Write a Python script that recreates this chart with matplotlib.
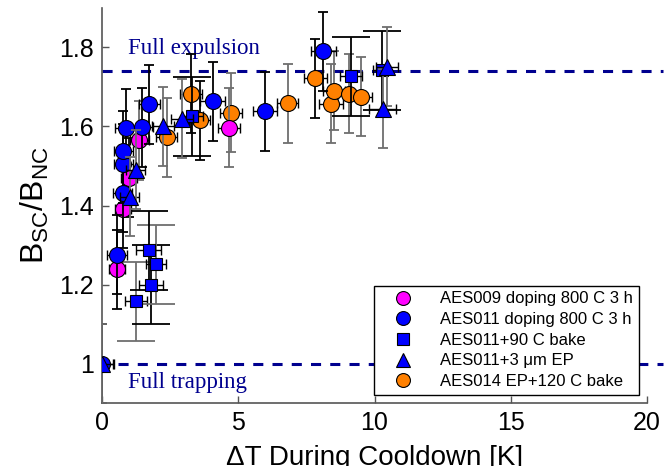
import matplotlib
matplotlib.use("Agg")
import matplotlib.pyplot as plt
from matplotlib.lines import Line2D

# ---------------- data ----------------
mag_x = [0.55, 0.77, 0.99, 1.36, 4.66]
mag_y = [1.238, 1.392, 1.47, 1.565, 1.597]
mag_xerr = [0.3, 0.3, 0.3, 0.35, 0.4]

cir_x = [0.0, 0.55, 0.76, 0.78, 0.78, 0.87, 1.46, 1.74, 4.06, 5.98, 8.12]
cir_y = [1.0, 1.275, 1.432, 1.506, 1.539, 1.595, 1.598, 1.656, 1.664, 1.639, 1.791]
cir_xerr = [0.45, 0.35, 0.35, 0.35, 0.35, 0.4, 0.4, 0.4, 0.45, 0.45, 0.45]

sq_x = [1.24, 1.79, 1.97, 1.71, 3.32, 9.13, 10.26]
sq_y = [1.157, 1.199, 1.251, 1.287, 1.626, 1.727, 1.743]
sq_xerr = [0.4, 0.45, 0.37, 0.45, 0.4, 0.4, 0.3]

tri_x = [0.0, 1.01, 1.23, 2.25, 2.93, 10.30, 10.47]
tri_y = [1.0, 1.422, 1.491, 1.60, 1.619, 1.645, 1.751]
tri_xerr = [0.4, 0.35, 0.35, 0.4, 0.4, 0.5, 0.4]

ora_x = [2.37, 3.28, 3.58, 4.73, 6.81, 7.83, 8.40, 8.52, 9.07, 9.51]
ora_y = [1.573, 1.683, 1.616, 1.635, 1.659, 1.722, 1.658, 1.69, 1.683, 1.675]
ora_xerr = [0.4, 0.4, 0.4, 0.4, 0.39, 0.41, 0.43, 0.41, 0.41, 0.38]

yerr_all = 0.1
full_expulsion = 1.74
full_trapping = 1.0

labels = ["AES009 doping 800 C 3 h", "AES011 doping 800 C 3 h",
          "AES011+90 C bake", "AES011+3 \u03bcm EP", "AES014 EP+120 C bake"]

# ---------------- style ----------------
K = "black"
G = "#6e6e6e"
mag_ecol = [K, K, K, G, G]
cir_ecol = [K] * len(cir_x)
sq_ecol = [G, K, G, K, K, K, K]
tri_ecol = [G] * len(tri_x)
ora_ecol = [G, K, K, G, G, K, G, G, G, G]

plt.rcParams['font.family'] = ['Liberation Sans', 'DejaVu Sans']

fig = plt.figure(figsize=(6.65, 4.66), dpi=100)
ax = fig.add_axes([102/665, 1-403/466, 545/665, 395/466])
ax.set_xlim(0, 20)
ax.set_ylim(0.9, 1.9)

dash_col = "#00008f"
ax.plot([0, 20.6], [full_expulsion]*2, color=dash_col, lw=2.2,
        dashes=(3.3, 3.0), dash_capstyle='butt', zorder=1, clip_on=False)
ax.plot([0.6, 20.6], [full_trapping]*2, color=dash_col, lw=2.2,
        dashes=(3.3, 3.0), dash_capstyle='butt', zorder=1, clip_on=False)
ax.text(0.95, 1.797, "Full expulsion", family=['Liberation Serif'], fontsize=16.5,
        color=dash_col, va='center', ha='left')
ax.text(0.95, 0.953, "Full trapping", family=['Liberation Serif'], fontsize=16.5,
        color=dash_col, va='center', ha='left')


def draw(xs, ys, xerrs, ecols, vcap, marker, color, ms, z):
    for x, y, xe, ec in zip(xs, ys, xerrs, ecols):
        ax.errorbar([x], [y], yerr=yerr_all, fmt='none', ecolor=ec,
                    elinewidth=1.3, capsize=vcap, capthick=1.3, zorder=z)
        ax.errorbar([x], [y], xerr=xe, fmt='none', ecolor=K,
                    elinewidth=1.0, capsize=3.5, capthick=1.0, zorder=z)
    ax.plot(xs, ys, ls='none', marker=marker, ms=ms, mfc=color, mec='black',
            mew=0.8, zorder=z + 0.5)


draw(ora_x, ora_y, ora_xerr, ora_ecol, 3.5, 'o', '#ff8000', 11.5, 3)
draw(sq_x, sq_y, sq_xerr, sq_ecol, 13.5, 's', '#0000ff', 8.5, 4)
draw(mag_x, mag_y, mag_xerr, mag_ecol, 3.5, 'o', '#ff00ff', 11.5, 5)
draw(cir_x, cir_y, cir_xerr, cir_ecol, 3.5, 'o', '#0000ff', 11.5, 6)
draw(tri_x, tri_y, tri_xerr, tri_ecol, 3.5, '^', '#0000ff', 11, 7)

ax.set_xticks([0, 5, 10, 15, 20])
ax.set_xticklabels(["0", "5", "10", "15", "20"])
ax.set_yticks([1.0, 1.2, 1.4, 1.6, 1.8])
ax.set_yticklabels(["1", "1.2", "1.4", "1.6", "1.8"])
ax.tick_params(direction='in', length=5, width=1.0, color='#555555',
               labelsize=18, pad=6)
for s in ['top', 'right']:
    ax.spines[s].set_visible(False)
for s in ['left', 'bottom']:
    ax.spines[s].set_color('#555555')
    ax.spines[s].set_linewidth(1.2)

ax.set_xlabel("\u0394T During Cooldown [K]", fontsize=20, labelpad=7)
ax.set_ylabel("B$_{\\mathregular{SC}}$/B$_{\\mathregular{NC}}$", fontsize=23, labelpad=6)

handles = [
    Line2D([], [], ls='none', marker='o', ms=10, mfc='#ff00ff', mec='black', mew=0.8),
    Line2D([], [], ls='none', marker='o', ms=10, mfc='#0000ff', mec='black', mew=0.8),
    Line2D([], [], ls='none', marker='s', ms=8, mfc='#0000ff', mec='black', mew=0.8),
    Line2D([], [], ls='none', marker='^', ms=10, mfc='#0000ff', mec='black', mew=0.8),
    Line2D([], [], ls='none', marker='o', ms=10, mfc='#ff8000', mec='black', mew=0.8),
]
leg = ax.legend(handles, labels, loc='lower right', bbox_to_anchor=(537/545, 8/395),
                fontsize=12, frameon=True, fancybox=False, edgecolor='black',
                framealpha=1, labelspacing=0.34, handletextpad=0.85,
                borderpad=0.35, handlelength=2.8, borderaxespad=0)
leg.get_frame().set_linewidth(1.0)
leg.set_zorder(10)

fig.savefig("out.png", dpi=100)
